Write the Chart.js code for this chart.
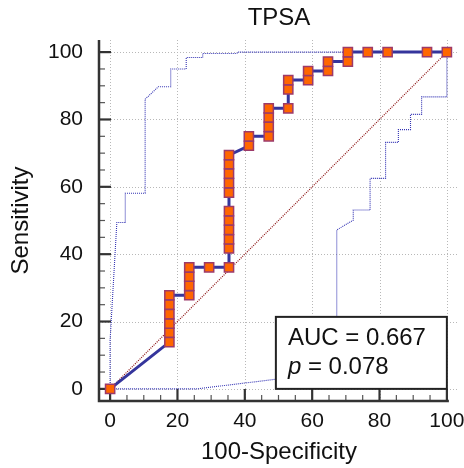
<!DOCTYPE html>
<html>
<head>
<meta charset="utf-8">
<script src="https://cdn.jsdelivr.net/npm/chart.js@4/dist/chart.umd.min.js"></script>
<style>
  html,body{margin:0;padding:0;background:#fff;}
  #wrap{width:464px;height:468px;}
</style>
</head>
<body>
<div id="wrap"><canvas id="chartRoc" width="464" height="468"></canvas></div>
<script>
// ROC curve (100-Specificity, Sensitivity)
const rocX=[0,17.6,17.6,17.6,17.6,17.6,17.6,23.5,23.5,23.5,23.5,29.4,35.3,35.3,35.3,35.3,35.3,35.3,35.3,35.3,35.3,35.3,35.3,41.2,41.2,47.1,47.1,47.1,47.1,52.9,52.9,52.9,58.8,58.8,64.7,64.7,70.6,70.6,76.5,82.4,94.1,100];
const rocY=[0,13.9,16.7,19.4,22.2,25,27.8,27.8,30.6,33.3,36.1,36.1,36.1,41.7,44.4,47.2,50,52.8,58.3,61.1,63.9,66.7,69.4,72.2,75,75,77.8,80.6,83.3,83.3,88.9,91.7,91.7,94.4,94.4,97.2,97.2,100,100,100,100,100];

// confidence bounds
const upperX=[0,0,2,4.5,4.5,10.4,10.4,14.3,18,18,22.6,22.6,27.5,27.5,37.6,38,100];
const upperY=[0,14.5,49.4,49.4,58.1,58.1,86,89.7,89.7,95,95,98.4,98.4,99.6,99.6,100,100];
const lowerX=[0,25.7,50.4,67.3,67.3,72.2,72.2,77.2,77.2,81.8,81.8,85.6,85.6,89.2,89.2,92.5,92.5,100,100];
const lowerY=[0,0,3,5.1,47.2,50.1,53.1,53.1,62.5,62.5,73.2,73.2,77,77,81.5,81.5,86.7,86.7,100];

const diagX=[0,100];
const diagY=[0,100];

const xTicks=[0,20,40,60,80,100];
const yTicks=[0,20,40,60,80,100];
const minorStep=5;

const chartTitle='TPSA';
const xTitle='100-Specificity';
const yTitle='Sensitivity';
const aucText='AUC = 0.667';
const pText=' = 0.078';

const fontFam='"Liberation Sans", Arial, Helvetica, sans-serif';
const pts=(xs,ys)=>xs.map((v,i)=>({x:v,y:ys[i]}));

const rocDecor={
  id:'rocDecor',
  beforeDatasetsDraw(chart){
    const {ctx,chartArea:a,scales:{x,y}}=chart;
    ctx.save();
    // dotted grid
    ctx.strokeStyle='#b8b8b8';ctx.lineWidth=1;ctx.setLineDash([1,2]);
    xTicks.forEach(v=>{const px=Math.round(x.getPixelForValue(v))+0.5;ctx.beginPath();ctx.moveTo(px,a.top);ctx.lineTo(px,a.bottom);ctx.stroke();});
    yTicks.forEach(v=>{const py=Math.round(y.getPixelForValue(v))+0.5;ctx.beginPath();ctx.moveTo(a.left,py);ctx.lineTo(a.right,py);ctx.stroke();});
    ctx.setLineDash([]);
    // minor ticks
    ctx.strokeStyle='#555';ctx.lineWidth=1.2;
    for(let v=0;v<=100;v+=minorStep){
      if(v%20===0) continue;
      const px=x.getPixelForValue(v),py=y.getPixelForValue(v);
      ctx.beginPath();ctx.moveTo(px,a.bottom);ctx.lineTo(px,a.bottom-6);ctx.stroke();
      ctx.beginPath();ctx.moveTo(a.left,py);ctx.lineTo(a.left+6,py);ctx.stroke();
    }
    // major ticks
    ctx.strokeStyle='#333';ctx.lineWidth=2.2;
    xTicks.forEach(v=>{const px=x.getPixelForValue(v);ctx.beginPath();ctx.moveTo(px,a.bottom);ctx.lineTo(px,a.bottom-12);ctx.stroke();});
    yTicks.forEach(v=>{const py=y.getPixelForValue(v);ctx.beginPath();ctx.moveTo(a.left,py);ctx.lineTo(a.left+12,py);ctx.stroke();});
    // axis lines
    ctx.lineWidth=2.5;
    ctx.beginPath();
    ctx.moveTo(a.left,a.top);
    ctx.lineTo(a.left,a.bottom);
    ctx.lineTo(x.getPixelForValue(100)+2,a.bottom);
    ctx.stroke();
    ctx.restore();
  },
  afterDatasetsDraw(chart){
    const {ctx,scales:{x,y}}=chart;
    const r=x.getPixelForValue(100),b=y.getPixelForValue(0);
    const w=171,h=72;
    ctx.save();
    ctx.fillStyle='#fff';ctx.fillRect(r-w,b-h,w,h);
    ctx.strokeStyle='#222';ctx.lineWidth=2;ctx.strokeRect(r-w,b-h,w,h);
    ctx.fillStyle='#111';ctx.textBaseline='alphabetic';ctx.textAlign='left';
    ctx.font='24px '+fontFam;
    ctx.fillText(aucText,r-w+12,b-44);
    ctx.font='italic 24px '+fontFam;
    ctx.fillText('p',r-w+12,b-15);
    const pw=ctx.measureText('p').width;
    ctx.font='24px '+fontFam;
    ctx.fillText(pText,r-w+12+pw,b-15);
    ctx.restore();
  }
};

const ctx=document.getElementById('chartRoc').getContext('2d');
new Chart(ctx,{
  type:'line',
  data:{
    datasets:[
      {data:pts(upperX,upperY),borderColor:'#3434b4',borderWidth:1.1,borderDash:[1,1],pointRadius:0,fill:false,tension:0,order:3},
      {data:pts(lowerX,lowerY),borderColor:'#3434b4',borderWidth:1.1,borderDash:[1,1],pointRadius:0,fill:false,tension:0,order:3},
      {data:pts(diagX,diagY),borderColor:'#8b1010',borderWidth:1.2,borderDash:[1,1.2],pointRadius:0,fill:false,tension:0,order:2},
      {data:pts(rocX,rocY),borderColor:'#35359c',borderWidth:3,pointStyle:'rect',pointRadius:6.5,pointBackgroundColor:'#ff6600',pointBorderColor:'#9c3a6a',pointBorderWidth:1.5,fill:false,tension:0,order:1}
    ]
  },
  options:{
    responsive:false,
    animation:false,
    devicePixelRatio:1,
    layout:{autoPadding:false,padding:{left:0,right:5,top:0,bottom:0}},
    plugins:{
      legend:{display:false},
      tooltip:{enabled:false},
      title:{display:true,text:chartTitle,fullSize:false,color:'#111',font:{family:fontFam,size:24,weight:'normal'},padding:{top:3.5,bottom:7.7}}
    },
    scales:{
      x:{
        type:'linear',min:-3.3,max:103.6,
        afterBuildTicks:s=>{s.ticks=xTicks.map(v=>({value:v}));},
        afterFit:s=>{s.height=67;s.paddingLeft=0;s.paddingRight=0;},
        grid:{display:false,drawTicks:false},
        border:{display:false},
        ticks:{color:'#111',font:{family:fontFam,size:21},padding:8,maxRotation:0,autoSkip:false},
        title:{display:true,text:xTitle,color:'#111',font:{family:fontFam,size:24},padding:{top:0,bottom:1.6}}
      },
      y:{
        type:'linear',min:-3.6,max:103.6,
        afterBuildTicks:s=>{s.ticks=yTicks.map(v=>({value:v}));},
        afterFit:s=>{s.width=99;s.paddingTop=0;s.paddingBottom=0;},
        grid:{display:false,drawTicks:false},
        border:{display:false},
        ticks:{color:'#111',font:{family:fontFam,size:21},padding:16,autoSkip:false},
        title:{display:true,text:yTitle,color:'#111',font:{family:fontFam,size:24},padding:{top:6.6,bottom:0}}
      }
    }
  },
  plugins:[rocDecor]
});
</script>
</body>
</html>
